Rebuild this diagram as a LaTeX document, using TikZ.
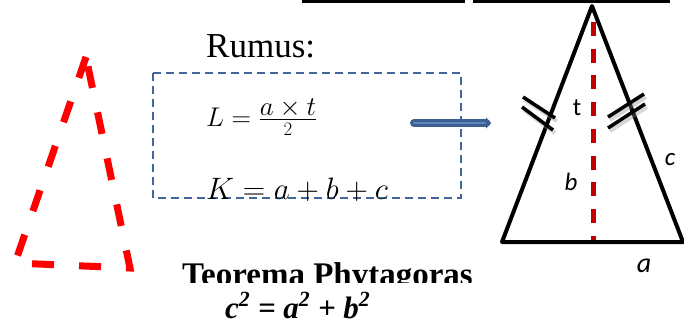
\RequirePackage{fix-cm}
\documentclass[tikz,border=0pt]{standalone}
\usepackage{fontspec}
\newfontfamily\calibrifont{Carlito}
\newfontfamily\timesfont{Liberation Serif}
\usetikzlibrary{arrows.meta}
\definecolor{boxblue}{HTML}{41679A}
\definecolor{arrowblue}{HTML}{3B5F8F}
\definecolor{arrowlight}{HTML}{5B83BD}
\definecolor{altred}{HTML}{C00000}

\begin{document}
\begin{tikzpicture}[x=1pt,y=-1pt]
\tikzstyle{redtri} = [draw=red, line width=7pt, dash pattern=on 22pt off 25pt];
\tikzstyle{formbox} = [draw=boxblue, line width=1.8pt, dash pattern=on 8pt off 5pt];
\tikzstyle{isotri} = [draw=black, line width=4pt, line join=round];
\tikzstyle{altline} = [draw=altred, line width=5pt, dash pattern=on 14pt off 12.7pt];
\tikzstyle{marktick} = [draw=black, line width=3.5pt];
\tikzstyle{tickshadow} = [draw=black!45, line width=4pt, opacity=0.35];
\tikzstyle{lbl} = [inner sep=0pt, font=\calibrifont\fontsize{25}{28}\selectfont];
\tikzstyle{txt} = [inner sep=0pt, anchor=base west];

\useasboundingbox (0,0) rectangle (684,327);
\fill[white] (0,0) rectangle (684,327);

% top rules
\coordinate (r1a) at (302,1); \coordinate (r1b) at (465,1);
\coordinate (r2a) at (473,1); \coordinate (r2b) at (670,1);
\draw[line width=3pt] (r1a) -- (r1b);
\draw[line width=3pt] (r2a) -- (r2b);

% red dashed triangle
\coordinate (rt) at (86,57);
\coordinate (rl) at (15,263);
\coordinate (rr) at (130,268);
\draw[redtri] (rt) -- (rl) -- (rr) -- cycle;

% formulas
\node[txt, font=\timesfont\fontsize{35}{38}\selectfont] (rumus) at (206,57) {Rumus:};
\draw[formbox] (153,73) rectangle (461,198);
\node[txt, font=\fontsize{27}{30}\selectfont] (luas) at (206,126)
  {$L=\frac{\textstyle a\times t}{2}$};
\node[txt, font=\fontsize{31}{34}\selectfont] (keliling) at (206,199)
  {$K=a+b+c$};

% arrow
\coordinate (arrs) at (414,123);
\coordinate (arre) at (491,123);
\draw[arrowblue, line width=8pt, line cap=round, -{Triangle[length=5pt,width=11pt]}] (arrs) -- (arre);
\draw[arrowlight, line width=2.5pt, line cap=round] (arrs) -- ([xshift=-6pt]arre);

% isosceles triangle
\coordinate (apex) at (592,6);
\coordinate (bl) at (502,242);
\coordinate (br) at (683,242);
\coordinate (foot) at (593,240);
\coordinate (top) at (593,22);
\draw[altline] (top) -- (foot);
\draw[isotri] (apex) -- (bl) -- (br) -- cycle;

% equal sides marks
\foreach \a/\b in {{523,97}/{555,118},{522,107}/{553,130},{644,94}/{608,117},{645,104}/{608,128}}
  \draw[tickshadow] ([shift={(2,3)}]\a) -- ([shift={(2,3)}]\b);
\foreach \a/\b in {{523,97}/{555,118},{522,107}/{553,130},{644,94}/{608,117},{645,104}/{608,128}}
  \draw[marktick] (\a) -- (\b);

\node[lbl] (lt) at (577,108) {t};
\node[lbl] (lb) at (571,182) {\itshape b};
\node[lbl] (lc) at (670,160) {\itshape c};
\node[lbl, font=\calibrifont\fontsize{28}{30}\selectfont] (la) at (644,266) {\itshape a};

% phytagoras
\begin{scope}
\clip (0,0) rectangle (684,282);
\node[txt, text depth=0pt, font=\timesfont\bfseries\fontsize{33}{35}\selectfont] (teorema) at (182,285) {Teorema Phytagoras};
\end{scope}
\node[txt, font=\timesfont\bfseries\itshape\fontsize{31}{33}\selectfont] (pyth) at (225,318)
  {c\textsuperscript{2} = a\textsuperscript{2} + b\textsuperscript{2}};

\end{tikzpicture}
\end{document}
